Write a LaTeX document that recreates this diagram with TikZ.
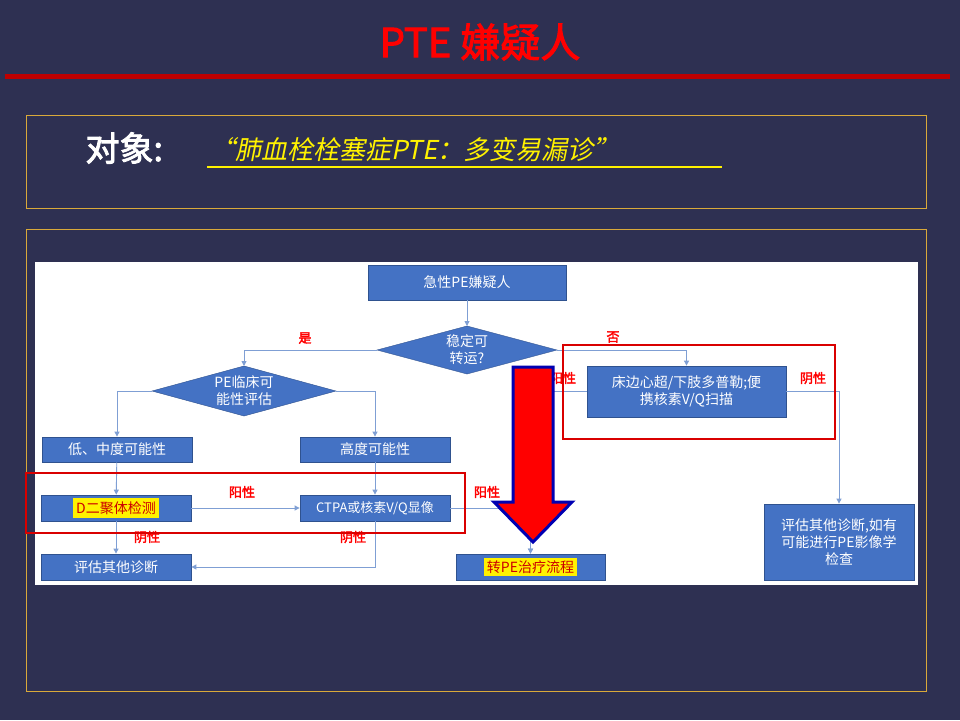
\documentclass[tikz,border=0pt]{standalone}
\usepackage{fontspec}
\setmainfont{Noto Sans CJK SC}[AutoFakeBold=2.5]
\newfontfamily\slfont{Noto Sans CJK SC}[FakeSlant=0.2]
\usetikzlibrary{arrows.meta}
\definecolor{bg}{HTML}{2E3052}
\definecolor{bfill}{HTML}{4472C4}
\definecolor{bline}{HTML}{2F528F}
\definecolor{gold}{HTML}{D9A93A}
\definecolor{conn}{HTML}{7F9FD4}
\tikzset{
  box/.style={draw=bline,fill=bfill,text=white,font=\fontsize{14}{17}\selectfont,align=center,inner sep=0pt,line width=0.8pt},
  dia/.style={draw=bline,fill=bfill,text=white,font=\fontsize{14}{17}\selectfont,align=center},
  lbl/.style={text=red,font=\bfseries\fontsize{13}{15}\selectfont},
  con/.style={draw=conn,line width=0.9pt,-{Triangle[length=5pt,width=5pt]}},
  plain/.style={draw=conn,line width=0.9pt},
  redbox/.style={draw=red!85!black,line width=2pt},
}
\begin{document}
\begin{tikzpicture}[x=1pt,y=-1pt]
\fill[bg] (0,0) rectangle (960,720);
\useasboundingbox (0,0) rectangle (960,720);
\node[text=red,font=\bfseries\fontsize{40}{44}\selectfont] (title) at (480,42) {PTE 嫌疑人};
\fill[red!75!black] (5,74) rectangle (950,79);
\draw[gold,line width=1pt] (26,115) rectangle (926,208);
\node[text=white,font=\bfseries\fontsize{34}{38}\selectfont,anchor=west] (obj) at (82,148) {对象:};
\node[text=yellow,font=\slfont\fontsize{26}{30}\selectfont,anchor=west,inner sep=0pt] (quote) at (209,150) {“肺血栓栓塞症PTE：多变易漏诊”};
\draw[yellow,line width=1.5pt] (207,167) -- (722,167);
\draw[gold,line width=1pt] (26,229) rectangle (926,691);
\fill[white] (35,262) rectangle (918,585);
% nodes
\node[box,minimum width=198pt,minimum height=35pt] (top) at (467,282.5) {急性PE嫌疑人};
\draw[dia] (377,350) -- (467,326) -- (557,350) -- (467,374) -- cycle;
\node[text=white,font=\fontsize{14}{17}\selectfont,align=center] (d1) at (467,350) {稳定可\\转运?};
\draw[dia] (152,391) -- (244,366) -- (336,391) -- (244,416) -- cycle;
\node[text=white,font=\fontsize{14}{17}\selectfont,align=center] (d2) at (244,391) {PE临床可\\能性评估};
\coordinate (d1t) at (467,326); \coordinate (d1l) at (377,350); \coordinate (d1r) at (557,350);
\coordinate (d2t) at (244,366); \coordinate (d2l) at (152,391); \coordinate (d2r) at (336,391);
\node[box,minimum width=150pt,minimum height=25pt] (low) at (117,449.5) {低、中度可能性};
\node[box,minimum width=150pt,minimum height=25pt] (high) at (375,449.5) {高度可能性};
\node[box,minimum width=150pt,minimum height=26pt] (dd) at (116,508) {\colorbox{yellow}{\color{red!80!black}D二聚体检测}};
\node[box,minimum width=150pt,minimum height=26pt,font=\fontsize{13}{15}\selectfont] (ctpa) at (375,508) {CTPA或核素V/Q显像};
\node[box,minimum width=150pt,minimum height=26pt] (ev) at (116,567) {评估其他诊断};
\node[box,minimum width=149pt,minimum height=26pt] (tr) at (530.5,567) {\colorbox{yellow}{\color{red!80!black}转PE治疗流程}};
\node[box,minimum width=199pt,minimum height=51pt] (bed) at (686.5,391.5) {床边心超/下肢多普勒;便\\携核素V/Q扫描};
\node[box,minimum width=150pt,minimum height=76pt] (evr) at (839,542) {评估其他诊断,如有\\可能进行PE影像学\\检查};
% connectors
\draw[con] (top) -- (d1t);
\draw[con] (d1l) -| (d2t);
\draw[con] (d1r) -| (bed.north);
\draw[con] (d2l) -| (low.north);
\draw[con] (d2r) -| (high.north);
\draw[con] (low) -- (dd);
\draw[con] (high) -- (ctpa);
\draw[con] (dd) -- (ev);
\draw[con] (dd) -- (ctpa);
\draw[con] (ctpa.east) -| (tr.north);
\draw[con] (bed.west) -| (tr.north);
\draw[con] (ctpa.south) |- (ev.east);
\draw[con] (bed.east) -| (evr.north);
% labels
\node[lbl] (yes) at (305,338) {是};
\node[lbl] (no) at (613,337) {否};
\node[lbl] (p1) at (242,492) {阳性};
\node[lbl] (n1) at (147,537) {阴性};
\node[lbl] (n2) at (353,537) {阴性};
\node[lbl] (p2) at (487,492) {阳性};
\node[lbl] (p3) at (563,378) {阳性};
\node[lbl] (n3) at (813,378) {阴性};
% red boxes
\draw[redbox] (26,473) rectangle (465,533);
\draw[redbox] (563,345) rectangle (835,439);
% big arrow
\draw[fill=red,draw=blue!70!black,line width=3pt,line join=miter]
  (513,367) -- (553,367) -- (553,502) -- (572,502) -- (533,542) -- (494,502) -- (513,502) -- cycle;
\end{tikzpicture}
\end{document}
